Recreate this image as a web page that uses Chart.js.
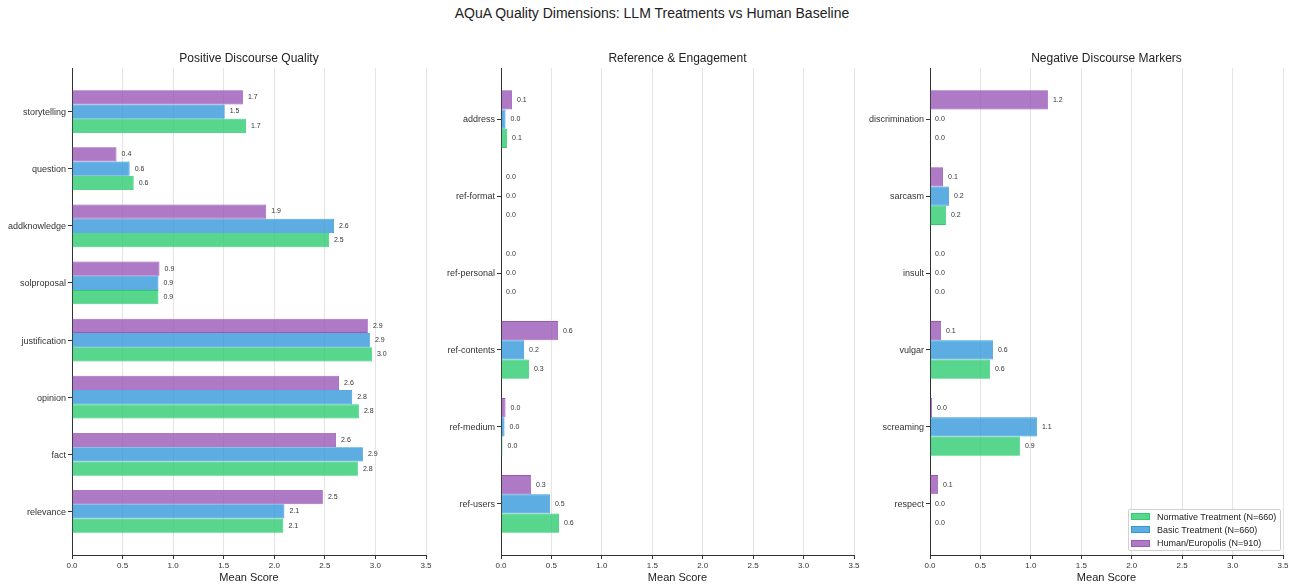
<!DOCTYPE html>
<html>
<head>
<meta charset="utf-8">
<script src="https://cdn.jsdelivr.net/npm/chart.js@4.4.1/dist/chart.umd.min.js"></script>
<style>
  html, body { margin: 0; padding: 0; background: #fff; }
  body { width: 1294px; height: 587px; position: relative; overflow: hidden;
         font-family: 'Liberation Sans', Arial, sans-serif; }
  canvas { position: absolute; top: 40px; }
  #title { position: absolute; top: 5px; left: 352px; width: 600px; text-align: center;
           font-size: 14px; line-height: 16px; color: #222; }
  #legend { position: absolute; left: 1128px; top: 509px; border: 1px solid #d0d0d0;
            border-radius: 2px; background: rgba(255,255,255,0.85);
            padding: 0 4px 0 2px; font-size: 9px; color: #222; }
  .row { height: 13.3px; display: flex; align-items: center; white-space: nowrap; }
  .sw { width: 19px; height: 7px; margin-right: 7px; box-sizing: border-box; }
</style>
</head>
<body>
<div id="title">AQuA Quality Dimensions: LLM Treatments vs Human Baseline</div>
<canvas id="c1" width="436" height="547" style="left:0px"></canvas>
<canvas id="c2" width="434" height="547" style="left:430px"></canvas>
<canvas id="c3" width="433" height="547" style="left:860px"></canvas>
<div id="legend"></div>

<script>
// Series (legend order) and their colours
const seriesNames = ['Normative Treatment (N=660)', 'Basic Treatment (N=660)', 'Human/Europolis (N=910)'];
const seriesFill  = ['rgba(46,204,113,0.8)', 'rgba(52,152,219,0.8)', 'rgba(155,89,182,0.8)'];
const seriesLine  = ['rgb(46,204,113)', 'rgb(52,152,219)', 'rgb(155,89,182)'];

// Positive discourse quality
const positiveCats      = ['storytelling', 'question', 'addknowledge', 'solproposal', 'justification', 'opinion', 'fact', 'relevance'];
const positiveNormative = [1.72, 0.61, 2.54, 0.855, 2.965, 2.836, 2.826, 2.09];
const positiveBasic     = [1.51, 0.57, 2.59, 0.855, 2.945, 2.77, 2.876, 2.10];
const positiveHuman     = [1.69, 0.44, 1.92, 0.865, 2.925, 2.64, 2.61, 2.48];

// Reference & engagement
const referenceCats      = ['address', 'ref-format', 'ref-personal', 'ref-contents', 'ref-medium', 'ref-users'];
const referenceNormative = [0.06, 0, 0, 0.277, 0.015, 0.575];
const referenceBasic     = [0.045, 0, 0, 0.228, 0.035, 0.485];
const referenceHuman     = [0.109, 0, 0, 0.565, 0.045, 0.297];

// Negative discourse markers
const negativeCats      = ['discrimination', 'sarcasm', 'insult', 'vulgar', 'screaming', 'respect'];
const negativeNormative = [0, 0.158, 0, 0.594, 0.891, 0];
const negativeBasic     = [0, 0.188, 0, 0.624, 1.06, 0];
const negativeHuman     = [1.169, 0.129, 0, 0.109, 0.02, 0.079];

const xTicks = [0, 0.5, 1.0, 1.5, 2.0, 2.5, 3.0, 3.5];
const xTitle = 'Mean Score';

const FONT = "'Liberation Sans', Arial, sans-serif";
Chart.defaults.font.family = FONT;

// Numeric label to the right of every bar
const valueLabels = {
  id: 'valueLabels',
  afterDatasetsDraw(chart) {
    const ctx = chart.ctx;
    const xs = chart.scales.x;
    ctx.save();
    ctx.font = '7px ' + FONT;
    ctx.fillStyle = '#333';
    ctx.textAlign = 'left';
    ctx.textBaseline = 'middle';
    chart.data.datasets.forEach((ds, di) => {
      const meta = chart.getDatasetMeta(di);
      meta.data.forEach((bar, i) => {
        const v = ds.data[i].x;
        ctx.fillText(v.toFixed(1), xs.getPixelForValue(v + 0.05), bar.y);
      });
    });
    ctx.restore();
  }
};

// Subplot heading centred over the plot area
const panelTitle = {
  id: 'panelTitle',
  afterDraw(chart, args, opts) {
    const { ctx, chartArea } = chart;
    ctx.save();
    ctx.font = '12px ' + FONT;
    ctx.fillStyle = '#222';
    ctx.textAlign = 'center';
    ctx.textBaseline = 'middle';
    ctx.fillText(opts.text, (chartArea.left + chartArea.right) / 2, chartArea.top - 9);
    ctx.restore();
  }
};

function makePanel(id, title, cats, normative, basic, human, axisWidth) {
  const n = cats.length;
  // bars span +-0.375 around each index, plus a 5% margin
  const pad = 0.375 + 0.05 * (n - 1 + 0.75);
  const series = [human, basic, normative];
  const order = [2, 1, 0];
  const datasets = series.map((vals, k) => ({
    label: seriesNames[order[k]],
    data: cats.map((c, i) => ({ x: vals[i], y: i })),
    backgroundColor: seriesFill[order[k]],
    borderColor: seriesLine[order[k]],
    borderWidth: 0.8,
    categoryPercentage: 0.75,
    barPercentage: 1.0
  }));

  return new Chart(document.getElementById(id), {
    type: 'bar',
    data: { datasets },
    options: {
      indexAxis: 'y',
      responsive: false,
      animation: false,
      devicePixelRatio: 1,
      events: [],
      layout: { padding: { top: 28, right: 10, bottom: 0, left: 0 } },
      plugins: {
        legend: { display: false },
        tooltip: { enabled: false },
        title: { display: false },
        panelTitle: { text: title }
      },
      scales: {
        x: {
          type: 'linear',
          position: 'bottom',
          min: 0,
          max: 3.5,
          afterBuildTicks: s => { s.ticks = xTicks.map(v => ({ value: v })); },
          afterFit: s => { s.height = 32; },
          ticks: { callback: v => Number(v).toFixed(1), font: { size: 8 }, color: '#333',
                   padding: 2, maxRotation: 0, autoSkip: false },
          grid: { color: 'rgba(0,0,0,0.1)', lineWidth: 1, tickColor: '#333', tickLength: 4 },
          border: { display: true, color: '#333', width: 1 },
          title: { display: true, text: xTitle, font: { size: 11 }, color: '#222',
                   padding: { top: 0, bottom: 2 } }
        },
        y: {
          type: 'linear',
          position: 'left',
          reverse: true,
          offset: false,
          bounds: 'data',
          min: -pad,
          max: n - 1 + pad,
          afterBuildTicks: s => { s.ticks = cats.map((c, i) => ({ value: i })); },
          afterFit: s => { s.width = axisWidth; },
          ticks: { callback: v => cats[v], font: { size: 9 }, color: '#333', padding: 2,
                   autoSkip: false, labelOffset: 1 },
          grid: { offset: false, drawOnChartArea: false, drawTicks: true, tickLength: 4, tickColor: '#333' },
          border: { display: true, color: '#333', width: 1 }
        }
      }
    },
    plugins: [valueLabels, panelTitle]
  });
}

makePanel('c1', 'Positive Discourse Quality', positiveCats, positiveNormative, positiveBasic, positiveHuman, 72);
makePanel('c2', 'Reference & Engagement', referenceCats, referenceNormative, referenceBasic, referenceHuman, 71);
makePanel('c3', 'Negative Discourse Markers', negativeCats, negativeNormative, negativeBasic, negativeHuman, 70);

// Legend box inside the last panel
const legend = document.getElementById('legend');
seriesNames.forEach((name, k) => {
  const row = document.createElement('div');
  row.className = 'row';
  const sw = document.createElement('span');
  sw.className = 'sw';
  sw.style.background = seriesFill[k];
  sw.style.border = '0.5px solid ' + seriesLine[k];
  const label = document.createElement('span');
  label.textContent = name;
  row.appendChild(sw);
  row.appendChild(label);
  legend.appendChild(row);
});
</script>
</body>
</html>
